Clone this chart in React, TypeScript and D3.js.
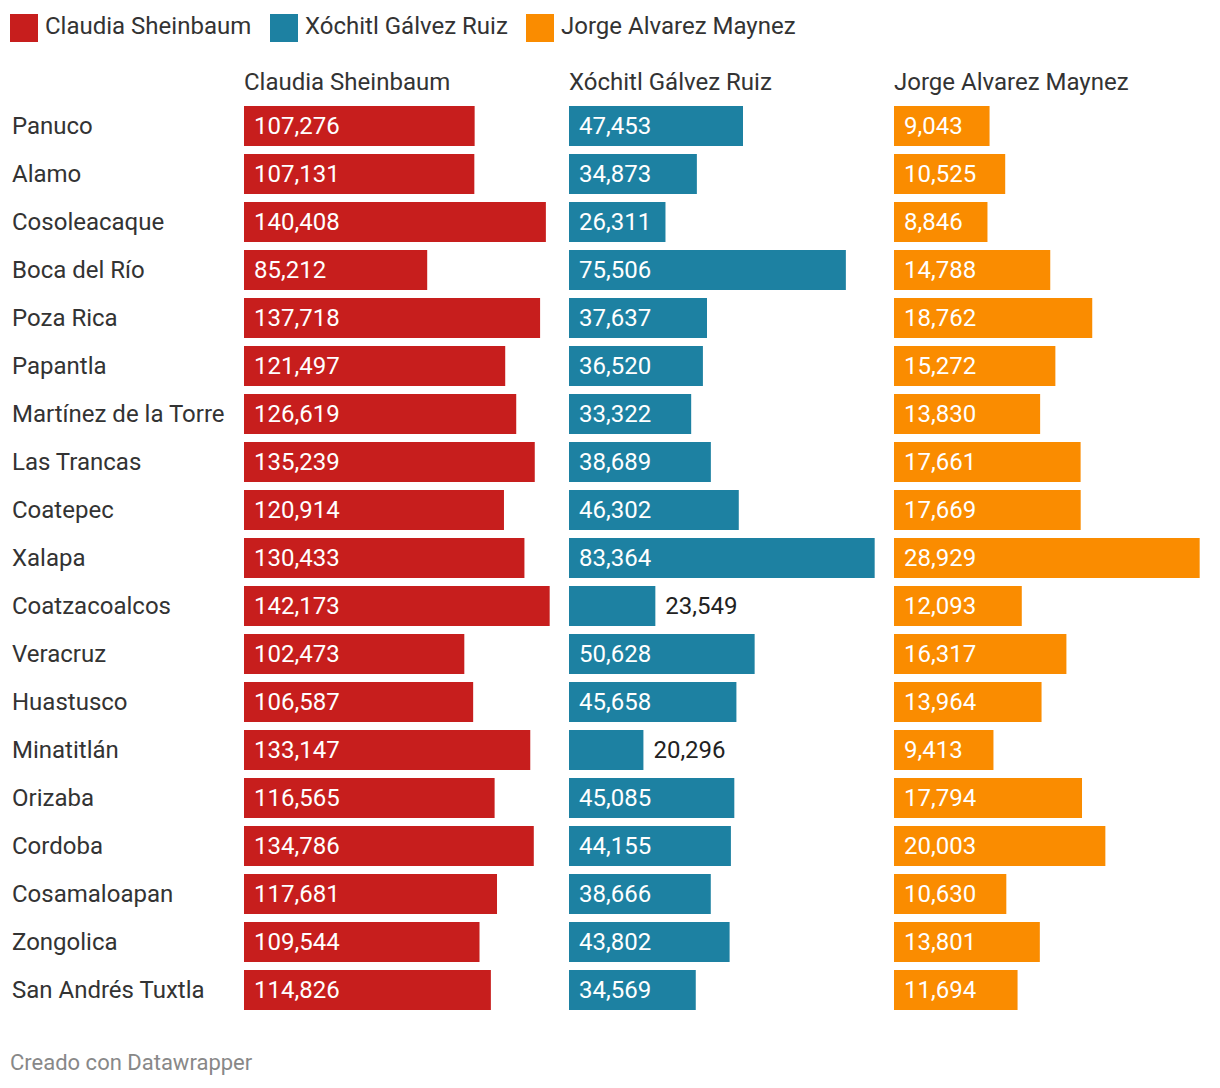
import React from "react";
import * as d3 from "d3";

const municipios = [
  "Panuco", "Alamo", "Cosoleacaque", "Boca del Río", "Poza Rica", "Papantla",
  "Martínez de la Torre", "Las Trancas", "Coatepec", "Xalapa", "Coatzacoalcos",
  "Veracruz", "Huastusco", "Minatitlán", "Orizaba", "Cordoba", "Cosamaloapan",
  "Zongolica", "San Andrés Tuxtla",
];
const sheinbaum = [107276, 107131, 140408, 85212, 137718, 121497, 126619, 135239, 120914, 130433, 142173, 102473, 106587, 133147, 116565, 134786, 117681, 109544, 114826];
const galvez = [47453, 34873, 26311, 75506, 37637, 36520, 33322, 38689, 46302, 83364, 23549, 50628, 45658, 20296, 45085, 44155, 38666, 43802, 34569];
const maynez = [9043, 10525, 8846, 14788, 18762, 15272, 13830, 17661, 17669, 28929, 12093, 16317, 13964, 9413, 17794, 20003, 10630, 13801, 11694];
const candidates = ["Claudia Sheinbaum", "Xóchitl Gálvez Ruiz", "Jorge Alvarez Maynez"];
const colors = ["#c71e1d", "#1d81a2", "#fa8c00"];

const W = 1220;
const H = 1088;
const FONT = "Roboto, 'Noto Sans', sans-serif";
const FS = 24;

let ctx: CanvasRenderingContext2D | null = null;
function textWidth(s: string, size = FS) {
  if (!ctx) ctx = document.createElement("canvas").getContext("2d");
  if (!ctx) return s.length * size * 0.55;
  ctx.font = `${size}px Roboto`;
  return ctx.measureText(s).width;
}

export default function App() {
  const series = [sheinbaum, galvez, maynez];
  const fmt = d3.format(",");
  const plotLeft = 244;
  const plotRight = 1200;
  const gap = 19.5;
  const colX = d3.scaleBand<number>().domain([0, 1, 2]).range([plotLeft, plotRight + gap]);
  const colW = colX.bandwidth() - gap;
  const y0 = 106;
  const yr = d3.scaleBand<string>().domain(municipios).range([y0, y0 + 48 * municipios.length - 8]).paddingInner(8 / 48);

  const legendX = [10, 270, 526];

  return (
    <svg width={W} height={H} style={{ position: "absolute", left: 0, top: 0, background: "#fff" }} fontFamily={FONT}>
      <rect width={W} height={H} fill="#fff" />
      {candidates.map((c, i) => (
        <g key={c}>
          <rect x={legendX[i]} y={14} width={28} height={28} fill={colors[i]} />
          <text x={legendX[i] + 35} y={26} dy="0.35em" fontSize={FS} fill="#333">{c}</text>
        </g>
      ))}
      {candidates.map((c, i) => (
        <text key={"h" + c} x={Math.round(colX(i)!)} y={82} dy="0.35em" fontSize={FS} fill="#333">{c}</text>
      ))}
      {municipios.map((m) => (
        <text key={"r" + m} x={12} y={yr(m)! + yr.bandwidth() / 2} dy="0.35em" fontSize={FS} fill="#333">{m}</text>
      ))}
      {series.map((vals, i) => {
        const x = d3.scaleLinear().domain([0, d3.max(vals)!]).range([0, colW]);
        const x0 = Math.round(colX(i)!);
        return (
          <g key={"s" + i}>
            {vals.map((v, j) => {
              const m = municipios[j];
              const w = x(v);
              const label = fmt(v);
              const inside = textWidth(label) + 20 <= w;
              const cy = yr(m)! + yr.bandwidth() / 2;
              return (
                <g key={m}>
                  <rect x={x0} y={yr(m)!} width={w} height={yr.bandwidth()} fill={colors[i]} />
                  <text x={inside ? x0 + 10 : x0 + w + 10} y={cy} dy="0.35em" fontSize={FS} fill={inside ? "#fff" : "#222"}>{label}</text>
                </g>
              );
            })}
          </g>
        );
      })}
      <text x={10} y={1062} dy="0.35em" fontSize={22} fill="#888">Creado con Datawrapper</text>
    </svg>
  );
}
